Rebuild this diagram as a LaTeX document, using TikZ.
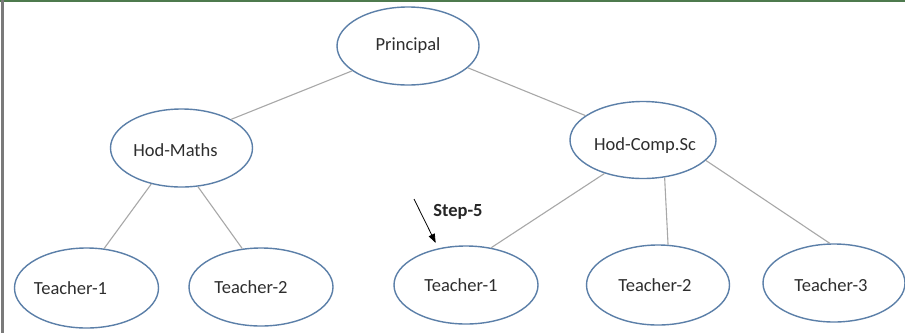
\documentclass[tikz,border=0pt]{standalone}
\usepackage{fontspec}
\setmainfont{Carlito}
\usetikzlibrary{shapes.geometric,arrows.meta}
\definecolor{ellblue}{HTML}{5B7FA8}
\definecolor{linegray}{HTML}{A8A8A8}
\definecolor{txtgray}{HTML}{2E2E2E}
\definecolor{topgreen}{HTML}{4E7A4E}
\definecolor{leftgray}{HTML}{7A7A7A}
\tikzset{
  ell/.style={ellipse,draw=ellblue,line width=1.4pt,minimum width=142pt,minimum height=78pt,inner sep=0pt,fill=white},
  lbl/.style={font=\fontsize{18.5}{20}\selectfont,text=txtgray},
  conn/.style={draw=linegray,line width=1.1pt},
  steparrow/.style={draw=black,line width=0.8pt,-{Triangle[length=9pt,width=6.5pt]}},
}
\begin{document}
\begin{tikzpicture}[x=1pt,y=-1pt]
\useasboundingbox (0,0) rectangle (905,333);
\fill[white] (0,0) rectangle (905,333);
\draw[topgreen,line width=2.2pt] (0,1.1) -- (905,1.1);
\draw[leftgray,line width=2.8pt] (2.6,0) -- (2.6,333);

\node[ell,label={[lbl]center:Principal}] (pr) at (408,46) {};
\node[ell,label={[lbl,xshift=-6pt,yshift=-2pt]center:Hod-Maths}] (hm) at (181.5,148) {};
\node[ell,minimum width=146pt,minimum height=77pt,label={[lbl,xshift=2pt,yshift=-6pt]center:Hod-Comp.Sc}] (hc) at (643,140) {};
\node[ell,minimum width=144pt,minimum height=80pt,label={[lbl,xshift=-16pt]center:Teacher-1}] (t1a) at (86.5,288) {};
\node[ell,minimum width=144pt,label={[lbl,xshift=-10pt]center:Teacher-2}] (t2a) at (261,287) {};
\node[ell,minimum width=144pt,label={[lbl,xshift=-5pt]center:Teacher-1}] (t1b) at (466,285) {};
\node[ell,minimum width=143pt,minimum height=80pt,label={[lbl,xshift=-3pt]center:Teacher-2}] (t2b) at (658,285) {};
\node[ell,label={[lbl,xshift=-3pt,yshift=-2pt]center:Teacher-3}] (t3) at (834,283) {};

\draw[conn] (pr.204) -- (hm.30);
\draw[conn] (pr.340) -- (hc.157);
\draw[conn] (hm.230) -- (t1a.66);
\draw[conn] (hm.293) -- (t2a.116);
\draw[conn] (hc.221) -- (t1b.56);
\draw[conn] (hc.300) -- (t2b.76);
\draw[conn] (hc.342) -- (t3.96);

\coordinate (s5) at (414,199);
\draw[steparrow,shorten >=6pt] (s5) -- (t1b.127);
\node[font=\bfseries\fontsize{18.5}{20}\selectfont,text=black!85] (s5lbl) at (458,212) {Step-5};
\end{tikzpicture}
\end{document}
